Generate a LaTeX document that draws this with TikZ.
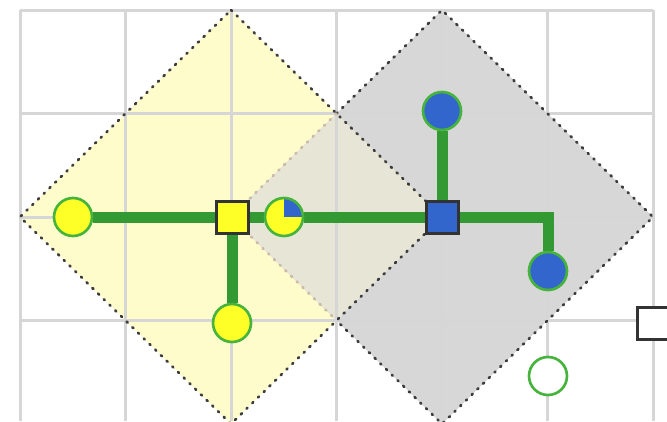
\documentclass[tikz,border=0pt]{standalone}
\pgfdeclarelayer{back}
\pgfdeclarelayer{mid}
\pgfsetlayers{back,mid,main}
\definecolor{gridc}{RGB}{214,214,214}
\definecolor{ylw}{RGB}{255,252,204}
\definecolor{gry}{RGB}{215,215,215}
\definecolor{ovl}{RGB}{231,230,214}
\definecolor{edgec}{RGB}{60,60,60}
\definecolor{fedge}{RGB}{205,185,170}
\definecolor{connc}{RGB}{51,153,51}
\definecolor{ringc}{RGB}{70,180,60}
\definecolor{nodey}{RGB}{255,255,40}
\definecolor{nodeb}{RGB}{51,102,204}
\tikzset{
  gridline/.style={draw=gridc, line width=2.25pt},
  diaedge/.style={draw=edgec, line width=2pt, line cap=round, dash pattern=on 1pt off 5pt},
  faintedge/.style={diaedge, draw=fedge},
  link/.style={draw=connc, line width=8.25pt},
  dot/.style={circle, minimum size=28.5pt, inner sep=0pt, draw=ringc, line width=2pt},
  yc/.style={dot, fill=nodey},
  bc/.style={dot, fill=nodeb},
  sq/.style={rectangle, minimum size=24pt, inner sep=0pt, draw=black!80, line width=2.25pt}
}
\begin{document}
\begin{tikzpicture}[x=0.75pt,y=-0.75pt]
\useasboundingbox (0,0) rectangle (667,421);
\begin{pgfonlayer}{back}
  \fill[ylw] (231,10) -- (442,217) -- (231,424) -- (20,217) -- cycle;
  \fill[gry] (442,10) -- (653,217) -- (442,424) -- (231,217) -- cycle;
  \fill[ovl] (336.5,113.5) -- (442,217) -- (336.5,320.5) -- (231,217) -- cycle;
  \foreach \i in {0,...,6} \draw[gridline] ({20+105.5*\i},10) -- ({20+105.5*\i},421);
  \foreach \j in {0,...,3} \draw[gridline] (20,{10+103.5*\j}) -- (653,{10+103.5*\j});
  \draw[diaedge] (336.5,113.5) -- (442,10) -- (653,217) -- (442,424) -- (336.5,320.5);
  \draw[faintedge] (336.5,113.5) -- (231,217) -- (336.5,320.5);
  \draw[diaedge] (231,10) -- (442,217) -- (231,424) -- (20,217) -- cycle;
\end{pgfonlayer}
\node[yc] (y1) at (73,217) {};
\node[sq, fill=nodey] (ys) at (232,217) {};
\node[yc, path picture={\fill[nodeb] (path picture bounding box.center) rectangle (path picture bounding box.north east);}] (yb) at (284,217) {};
\node[yc] (y2) at (232,323) {};
\node[sq, fill=nodeb] (bs) at (442,217) {};
\node[bc] (b1) at (442,111) {};
\node[bc] (b2) at (548,271) {};
\node[dot, fill=white] (e1) at (548,376) {};
\node[sq, fill=white] (ws) at (653,323) {};
\begin{pgfonlayer}{mid}
  \draw[link] (y1) -- (ys);
  \draw[link] (ys) -- (yb);
  \draw[link] (yb) -- (bs);
  \draw[link] (ys) -- (y2);
  \draw[link] (bs) -- (b1);
  \draw[link] (bs) -| (b2);
\end{pgfonlayer}
\end{tikzpicture}
\end{document}
